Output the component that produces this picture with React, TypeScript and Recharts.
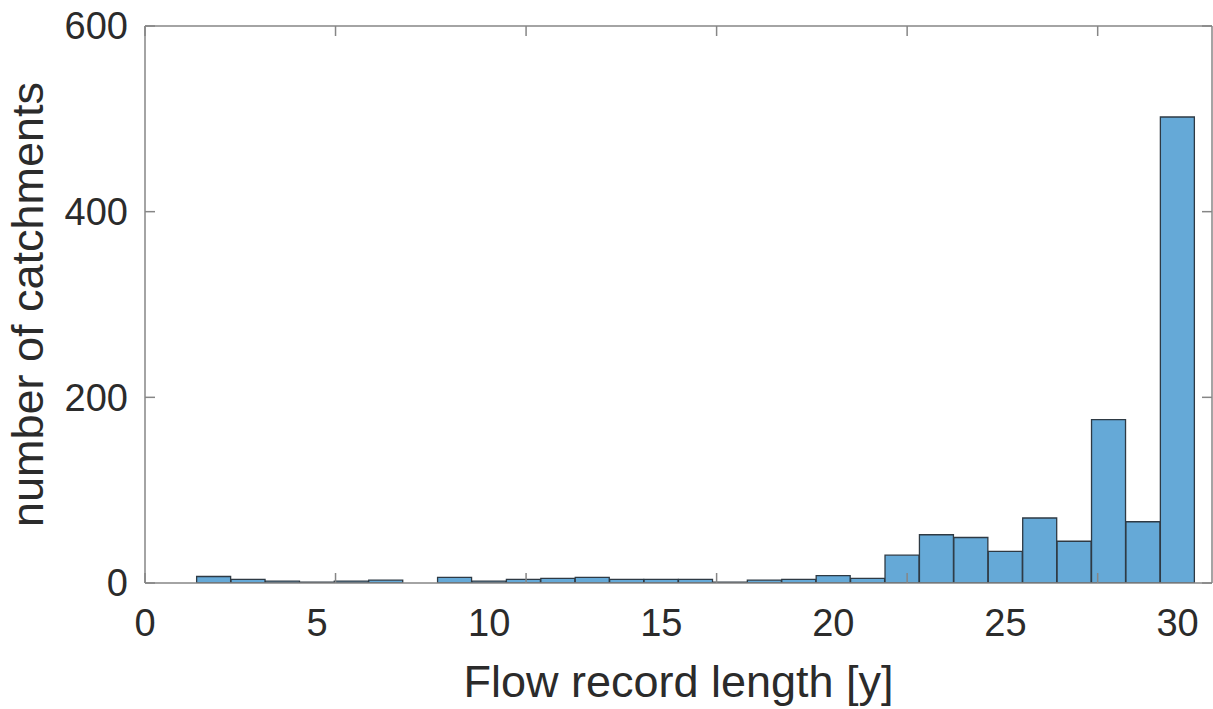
import { BarChart, Bar, XAxis, YAxis, Label } from 'recharts';

// histogram of flow record length, bins of 1 year centred on whole years
const bins = [2, 3, 4, 5, 6, 7, 8, 9, 10, 11, 12, 13, 14, 15, 16, 17, 18, 19, 20, 21, 22, 23, 24, 25, 26, 27, 28, 29, 30];
const counts = [7, 4, 2, 1, 2, 3, 0, 6, 2, 4, 5, 6, 4, 4, 4, 1, 3, 4, 8, 5, 30, 52, 49, 34, 70, 45, 176, 66, 502];
const xTicks = [0, 5, 10, 15, 20, 25, 30];
const yTicks = [0, 200, 400, 600];

const data = bins.map((bin, i) => ({ bin, count: counts[i] }));

const FONT = "'Liberation Sans', Arial, Helvetica, sans-serif";
const AXIS = '#868686';
const TEXT = '#2b2b2b';

const tickFont = { fontSize: 38, fill: TEXT, fontFamily: FONT };
const noLabel = () => <g />;

export default function App() {
  return (
    <div style={{ position: 'fixed', left: 0, top: 0, background: '#fff' }}>
      <BarChart
        width={1213}
        height={709}
        data={data}
        margin={{ top: 26, right: 1, left: 0, bottom: 0 }}
        barCategoryGap={0}
        barGap={0}
      >
        <XAxis
          xAxisId='main'
          dataKey='bin'
          type='number'
          domain={[0, 31]}
          ticks={xTicks}
          allowDataOverflow
          height={126}
          tickLine={false}
          tickSize={0}
          tickMargin={26}
          axisLine={{ stroke: AXIS, strokeWidth: 1.5 }}
          tick={tickFont}
        >
          <Label
            content={({ viewBox }: any) => (
              <text
                x={viewBox.x + viewBox.width / 2}
                y={viewBox.y + 114}
                textAnchor='middle'
                fontSize={45}
                fontFamily={FONT}
                fill={TEXT}
              >
                Flow record length [y]
              </text>
            )}
          />
        </XAxis>
        <XAxis
          xAxisId='bottomTicks'
          type='number'
          domain={[0, 31]}
          ticks={xTicks}
          allowDataOverflow
          mirror
          height={10}
          tick={noLabel}
          tickSize={10}
          axisLine={false}
          tickLine={{ stroke: AXIS, strokeWidth: 1.5 }}
        />
        <XAxis
          xAxisId='top'
          orientation='top'
          type='number'
          domain={[0, 31]}
          ticks={xTicks}
          allowDataOverflow
          mirror
          height={10}
          tick={noLabel}
          tickSize={10}
          axisLine={{ stroke: AXIS, strokeWidth: 1.5 }}
          tickLine={{ stroke: AXIS, strokeWidth: 1.5 }}
        />
        <YAxis
          yAxisId='main'
          type='number'
          domain={[0, 600]}
          ticks={yTicks}
          allowDataOverflow
          width={145}
          tickLine={false}
          tickSize={0}
          tickMargin={17}
          axisLine={{ stroke: AXIS, strokeWidth: 1.5 }}
          tick={tickFont}
        >
          <Label
            content={({ viewBox }: any) => {
              const cx = viewBox.x + 43;
              const cy = viewBox.y + viewBox.height / 2;
              return (
                <text
                  x={cx}
                  y={cy}
                  transform={`rotate(-90 ${cx} ${cy})`}
                  textAnchor='middle'
                  fontSize={45}
                  fontFamily={FONT}
                  fill={TEXT}
                >
                  number of catchments
                </text>
              );
            }}
          />
        </YAxis>
        <YAxis
          yAxisId='leftTicks'
          type='number'
          domain={[0, 600]}
          ticks={yTicks}
          allowDataOverflow
          mirror
          width={10}
          tick={noLabel}
          tickSize={10}
          axisLine={false}
          tickLine={{ stroke: AXIS, strokeWidth: 1.5 }}
        />
        <YAxis
          yAxisId='right'
          orientation='right'
          type='number'
          domain={[0, 600]}
          ticks={yTicks}
          allowDataOverflow
          mirror
          width={10}
          tick={noLabel}
          tickSize={10}
          axisLine={{ stroke: AXIS, strokeWidth: 1.5 }}
          tickLine={{ stroke: AXIS, strokeWidth: 1.5 }}
        />
        <Bar
          xAxisId='main'
          yAxisId='main'
          dataKey='count'
          fill='#65a9d7'
          stroke='#2e3a44'
          strokeWidth={1.3}
          isAnimationActive={false}
        />
      </BarChart>
    </div>
  );
}
